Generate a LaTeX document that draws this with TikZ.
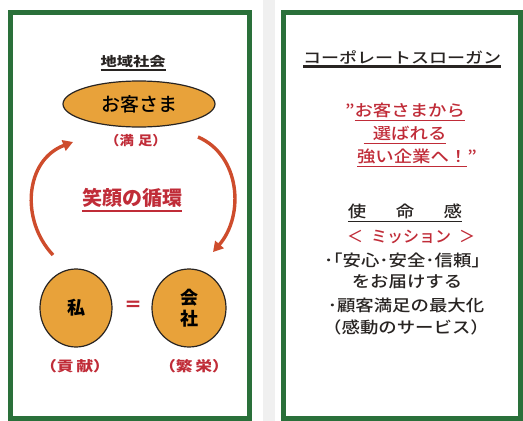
\documentclass[tikz,border=0pt]{standalone}
\usepackage{fontspec}
\usepackage{graphicx}
\usetikzlibrary{arrows.meta}
\usetikzlibrary{shapes.geometric}
\setmainfont{Noto Sans CJK JP}
\newfontfamily\jpmed{Noto Sans CJK JP Medium}
\definecolor{framegreen}{RGB}{42,112,58}
\definecolor{gold}{RGB}{232,162,58}
\definecolor{textred}{RGB}{192,44,56}
\definecolor{arrowred}{RGB}{206,76,44}
\definecolor{ink}{RGB}{40,36,34}
\newcommand{\fsz}[1]{\fontsize{#1}{#1}\selectfont}
\newcommand{\wide}[2][1.15]{\scalebox{#1}[1]{#2}}
\newsavebox{\ulinbox}
\newcommand{\ulin}[2][1.4pt]{\sbox{\ulinbox}{#2}\rlap{\rule[-0.3em]{\wd\ulinbox}{#1}}\usebox{\ulinbox}}
\tikzset{panel/.style = {draw=framegreen, line width=5}}
\tikzset{disc/.style = {ellipse, draw=ink, line width=1.2, fill=gold, inner sep=0}}
\tikzset{redtxt/.style = {text=textred, inner sep=1}}
\tikzset{inktxt/.style = {text=ink, inner sep=1}}
\tikzset{loopar/.style = {draw=arrowred, line width=3.4,
                          -{Triangle[length=10pt, width=11pt]}}}

\begin{document}
\begin{tikzpicture}[x=1pt, y=-1pt]
      \useasboundingbox (0, 0) rectangle (523, 421);
      \fill [black!6] (263, 0) rectangle (275, 421);
      \draw [panel] (10, 12.5) rectangle (249.5, 418);
      \draw [panel] (283, 12.5) rectangle (520.5, 418);
      % left panel
      \node [inktxt, font=\fsz{13}\bfseries] (region) at (133, 63) {\wide[1.25]{\ulin{地域社会}}};
      \node [disc, minimum width=152, minimum height=46, font=\fsz{19}\jpmed] (cust) at (139, 104) {お客さま};
      \node [redtxt, font=\fsz{13}\bfseries] (sat) at (136, 141) {\wide[1.1]{（満\hspace{4pt}足）}};
      \node [redtxt, font=\fsz{20}\bfseries] (smile) at (132, 200) {\ulin{笑顔の循環}};
      \node [disc, minimum width=72, minimum height=78, font=\fsz{18}\bfseries] (me) at (76, 308) {私};
      \node [redtxt, font=\fsz{18}\bfseries] (eq) at (133, 306) {＝};
      \node [disc, minimum width=74, minimum height=78, font=\fsz{18}\bfseries, align=center] (firm) at (189, 308) {会\\[3pt]社};
      \node [redtxt, font=\fsz{14}\bfseries] (contrib) at (75, 366) {\wide[1.2]{（貢\,献）}};
      \node [redtxt, font=\fsz{14}\bfseries] (prosper) at (194, 366) {\wide[1.2]{（繁\,栄）}};
      \coordinate (ltail) at (53, 255);
      \coordinate (lhead) at (73, 142);
      \coordinate (rtail) at (198, 137);
      \coordinate (rhead) at (213, 252);
      \draw [loopar] (ltail) .. controls (20, 220) and (25, 160) .. (lhead);
      \draw [loopar] (rtail) .. controls (240, 155) and (245, 215) .. (rhead);
      % right panel
      \node [inktxt, font=\fsz{15}\jpmed] (slogan) at (402, 59) {\wide[1.2]{\ulin[2.2pt]{コーポレートスローガン}}};
      \node [redtxt, font=\fsz{16}\jpmed] (line1) at (405, 112) {\wide{”\ulin{お客さまから}}};
      \node [redtxt, font=\fsz{16}\jpmed] (line2) at (405, 135) {\wide{\ulin{\hphantom{･}選ばれる}}};
      \node [redtxt, font=\fsz{16}\jpmed] (line3) at (417, 158) {\wide{\ulin{強い企業へ！}”}};
      \node [inktxt, font=\fsz{16}\jpmed] (mission) at (405, 213) {\wide{\ulin{使\hspace{1.6em}命\hspace{1.6em}感}}};
      \node [redtxt, font=\fsz{16}\jpmed] (misskana) at (411, 237) {＜\hspace{0.5em}ミッション\hspace{0.5em}＞};
      \node [inktxt, font=\fsz{16}\jpmed] (point1) at (407, 260) {\wide{･｢安心･安全･信頼」}};
      \node [inktxt, font=\fsz{16}\jpmed] (point2) at (407, 282) {\wide{をお届けする}};
      \node [inktxt, font=\fsz{16}\jpmed] (point3) at (406, 305) {\wide{･顧客満足の最大化}};
      \node [inktxt, font=\fsz{16}\jpmed] (point4) at (406, 327) {\wide{（感動のサービス）}};
    \end{tikzpicture}
\end{document}
